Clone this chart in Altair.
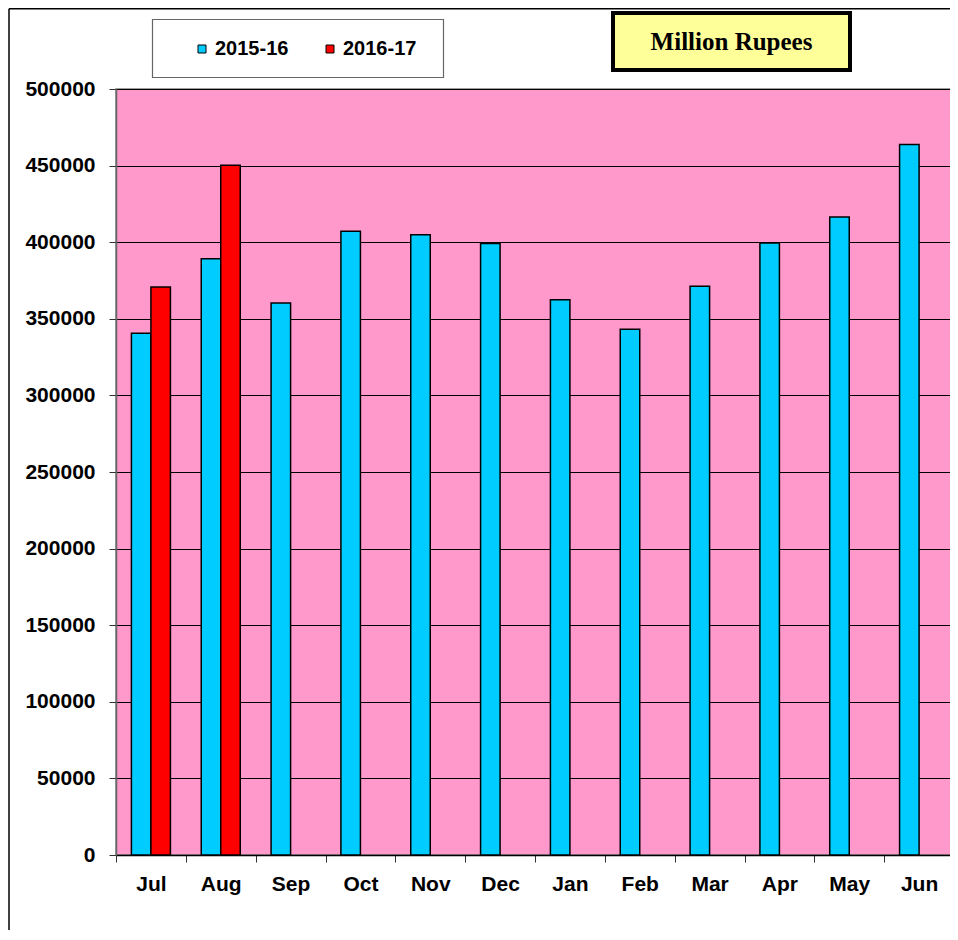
import altair as alt
import pandas as pd

months = ["Jul", "Aug", "Sep", "Oct", "Nov", "Dec", "Jan", "Feb", "Mar", "Apr", "May", "Jun"]
series = ["2015-16", "2016-17"]
values_1516 = [340500, 389200, 360300, 407200, 404900, 399200, 362500, 343100, 371200, 399400, 416400, 463800]
values_1617 = [370700, 450300]
colors = ["#00CCFF", "#FF0000"]
y_ticks = list(range(0, 500001, 50000))

rows = []
for m, v in zip(months, values_1516):
    rows.append({"month": m, "series": series[0], "value": v})
for m, v in zip(months, values_1617):
    rows.append({"month": m, "series": series[1], "value": v})
df = pd.DataFrame(rows)

W, H = 838, 766
FONT = "Liberation Sans"

bars = alt.Chart(df).mark_bar(stroke="black", strokeWidth=1.5).encode(
    x=alt.X("month:N", sort=months, title=None,
            scale=alt.Scale(paddingInner=0, paddingOuter=0),
            axis=alt.Axis(labelAngle=0, tickBand="extent", labelFont=FONT, labelFontSize=21,
                          labelFontWeight="bold", labelColor="black", labelPadding=11,
                          tickSize=7, tickColor="#333333", domainColor="black", domainWidth=1.5,
                          grid=False)),
    xOffset=alt.XOffset("series:N", scale=alt.Scale(domain=series, paddingInner=0, paddingOuter=0.79)),
    y=alt.Y("value:Q", title=None,
            scale=alt.Scale(domain=[0, 500000], nice=False),
            axis=alt.Axis(values=y_ticks, format="d", labelFont=FONT, labelFontSize=21,
                          labelFontWeight="bold", labelColor="black", labelPadding=14,
                          tickSize=7, tickColor="#333333", domainColor="#666666", domainWidth=1.5,
                          grid=True, gridColor="black", gridWidth=1, gridOpacity=1)),
    color=alt.Color("series:N", scale=alt.Scale(domain=series, range=colors),
                    legend=alt.Legend(orient="none", legendX=76, legendY=-50, direction="horizontal",
                                      title=None, symbolType="square", symbolSize=64,
                                      symbolStrokeColor="black", symbolStrokeWidth=1,
                                      labelFont=FONT, labelFontSize=20, labelFontWeight="bold",
                                      labelColor="black", columnPadding=31, labelOffset=3,
                                      padding=0)),
)

one = pd.DataFrame({"k": [0]})

legend_box = alt.Chart(one).mark_rect(fill="white", stroke="#666666", strokeWidth=1.2).encode(
    x=alt.value(36.5), x2=alt.value(327.5), y=alt.value(-69.5), y2=alt.value(-11.5)
)

unit_box = alt.Chart(one).mark_rect(fill="#FFFF99", stroke="black", strokeWidth=4).encode(
    x=alt.value(497), x2=alt.value(734), y=alt.value(-76), y2=alt.value(-19)
)
unit_text = alt.Chart(one).mark_text(text="Million Rupees", font="Liberation Serif", fontSize=25,
                                     fontWeight="bold", color="black", align="center",
                                     baseline="middle").encode(
    x=alt.value(615.5), y=alt.value(-47)
)

border_top = alt.Chart(one).mark_rule(color="black", strokeWidth=1.5).encode(
    x=alt.value(-107), x2=alt.value(W + 2), y=alt.value(-80.2)
)
border_left = alt.Chart(one).mark_rule(color="black", strokeWidth=1.5).encode(
    x=alt.value(-107), y=alt.value(-80.2), y2=alt.value(H + 75)
)

chart = alt.layer(legend_box, unit_box, unit_text, border_top, border_left, bars).properties(
    width=W, height=H,
    autosize=alt.AutoSizeParams(type="none"),
    padding={"left": 108, "top": 81, "right": -4, "bottom": 75},
    background="white",
).configure_view(fill="#FF99CC", stroke="#808080", strokeWidth=1.5)

chart.save("out.html", embed_options={"renderer": "svg", "actions": False})
